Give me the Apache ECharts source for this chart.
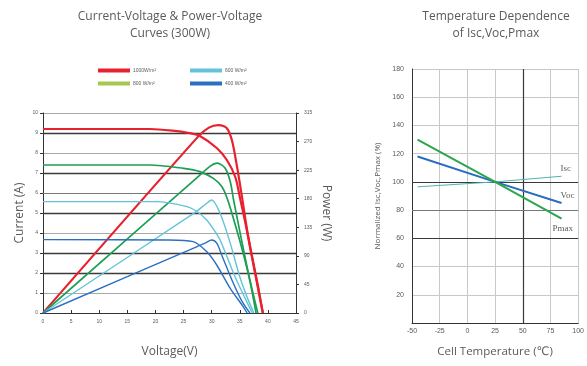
<!DOCTYPE html>
<html>
<head>
<meta charset="utf-8">
<script src="https://cdn.jsdelivr.net/npm/echarts@6/dist/echarts.min.js"></script>
<style>
  html, body { margin: 0; padding: 0; background: #fff; }
</style>
</head>
<body>
<div id="main" style="width:587px;height:366px;"></div>
<script>
// irradiance curves: [voltage, current(A)] and [voltage, power(W)]
var irrNames = ['1000W/m²', '800 W/m²', '600 W/m²', '400 W/m²'];
var ivRed = [[0,9.2],[19,9.2],[23,9.12],[26,9.0],[27.9,8.85],[30.9,8.25],[32.7,7.65],[34.2,6.8],[35,5.8],[36,4.5],[37.2,2.8],[38.2,1.4],[39.1,0]];
var pvRed = [[0,0],[27.5,277],[29.5,292],[31.2,296],[32.7,291],[33.6,272],[34.4,236],[35.3,188],[36.5,120],[38,50],[39.1,0]];
var ivGreen = [[0,7.4],[19,7.4],[25,7.23],[27.9,7.07],[30.3,6.73],[31.8,6.32],[32.8,5.7],[34,4.6],[35.5,3.1],[36.8,1.6],[37.9,0]];
var pvGreen = [[0,0],[27,210],[29.7,231],[31,236],[32.4,228],[33.3,207],[33.9,178],[35.2,120],[36.6,60],[38.2,0]];
var ivLight = [[0,5.57],[20,5.57],[25.6,5.32],[27.5,5.05],[29.1,4.65],[30.3,4.2],[31.5,3.65],[33.9,1.98],[35.5,1.0],[37.2,0]];
var pvLight = [[0,0],[27,158],[29,172],[30,178],[31.5,157],[33.3,110],[35,57],[36.3,25],[37.5,0]];
var ivBlue = [[0,3.67],[22,3.65],[26.7,3.57],[29.1,3.07],[30.9,2.4],[33.3,1.23],[35.6,0.32],[36.3,0]];
var pvBlue = [[0,0],[27,103],[29,111],[30,115],[30.9,110],[31.8,91],[33.6,52],[35.3,20],[36.8,0]];

// temperature dependence: [cell temperature, normalized %]
var tempIsc = [[-45,96.5],[25,100],[85,104]];
var tempVoc = [[-45,118],[25,100],[85,85]];
var tempPmax = [[-45,130],[25,100],[85,74]];

// darker grid lines
var darkCurrent = [2, 3, 5, 7, 9];
var midCurrent = [6];
var darkTempX = [50];
var darkTempY = [60, 100];
var midTempY = [80];

var chart = echarts.init(document.getElementById('main'));

var cRed = '#e8212e', cGreen = '#1c9e55', cLight = '#62c3d9', cBlue = '#2a70c2';
var txt = '#5a5a5a';
var font = 'Open Sans, DejaVu Sans, sans-serif';

function curve(name, data, color, axis, w){
    return {
        name: name, type: 'line', xAxisIndex: 0, yAxisIndex: axis,
        data: data, showSymbol: false, smooth: 0.3, z: 3,
        lineStyle: { color: color, width: w }, itemStyle: { color: color },
        silent: true, animation: false
    };
}
function tempLine(name, data, color, w, off){
    return {
        name: name, type: 'line', xAxisIndex: 1, yAxisIndex: 2,
        data: data, showSymbol: false, z: 3,
        lineStyle: { color: color, width: w }, itemStyle: { color: color },
        endLabel: { show: true, formatter: name, color: txt, fontSize: 9,
            fontFamily: 'Liberation Serif, DejaVu Serif, serif', offset: off },
        animation: false
    };
}
function gridMarks(list){
    return { silent: true, symbol: 'none', z: 1, animation: false, label: { show: false },
             data: list };
}

var redIV = curve(irrNames[0], ivRed, cRed, 0, 2.2);
redIV.markLine = gridMarks(
    darkCurrent.map(function(v){ return { yAxis: v, lineStyle: { color: '#3a3a3a', width: 1.3, type: 'solid' } }; })
    .concat(midCurrent.map(function(v){ return { yAxis: v, lineStyle: { color: '#777', width: 1, type: 'solid' } }; }))
);
var iscLine = tempLine('Isc', tempIsc, '#4fb6ae', 1, [-9, -8]);
iscLine.markLine = gridMarks(
    darkTempX.map(function(v){ return { xAxis: v, lineStyle: { color: '#3a3a3a', width: 1.2, type: 'solid' } }; })
    .concat(darkTempY.map(function(v){ return { yAxis: v, lineStyle: { color: '#3a3a3a', width: 1.2, type: 'solid' } }; }))
    .concat(midTempY.map(function(v){ return { yAxis: v, lineStyle: { color: '#777', width: 1, type: 'solid' } }; }))
);

var option = {
    backgroundColor: '#fff',
    title: [
        { text: 'Current-Voltage & Power-Voltage\nCurves (300W)', left: 165, top: 3, textAlign: 'center',
          textStyle: { fontSize: 12, fontWeight: 'normal', color: txt, lineHeight: 17, fontFamily: font } },
        { text: 'Temperature Dependence\nof Isc,Voc,Pmax', left: 491, top: 3, textAlign: 'center',
          textStyle: { fontSize: 12, fontWeight: 'normal', color: txt, lineHeight: 17, fontFamily: font } }
    ],
    legend: [
        { left: 93, top: 63, orient: 'vertical', itemWidth: 32, itemHeight: 4, itemGap: 8, icon: 'rect',
          textStyle: { fontSize: 5, color: txt, padding: [0, 0, 0, -2] },
          data: [{ name: irrNames[0] }, { name: irrNames[1], itemStyle: { color: '#a5c94f' } }] },
        { left: 185, top: 63, orient: 'vertical', itemWidth: 32, itemHeight: 4, itemGap: 8, icon: 'rect',
          textStyle: { fontSize: 5, color: txt, padding: [0, 0, 0, -2] },
          data: [{ name: irrNames[2] }, { name: irrNames[3] }] }
    ],
    grid: [
        { left: 43, right: 291, top: 113, bottom: 53 },
        { left: 412, right: 6, top: 69, bottom: 43 }
    ],
    xAxis: [
        { gridIndex: 0, type: 'value', min: 0, max: 45, interval: 5,
          name: 'Voltage(V)', nameLocation: 'middle', nameGap: 33,
          nameTextStyle: { fontSize: 12, color: txt, fontFamily: font },
          axisLine: { onZero: false, lineStyle: { color: '#333' } },
          axisTick: { inside: true, length: 3, lineStyle: { color: '#333' } },
          axisLabel: { fontSize: 5, color: txt, margin: 6 },
          splitLine: { show: false } },
        { gridIndex: 1, type: 'value', min: -50, max: 100, interval: 25,
          name: 'Cell Temperature (℃)', nameLocation: 'middle', nameGap: 23,
          nameTextStyle: { fontSize: 11.5, color: txt, fontFamily: font },
          axisLine: { onZero: false, lineStyle: { color: '#333' } },
          axisTick: { show: false },
          axisLabel: { fontSize: 7, color: txt, margin: 5 },
          splitLine: { show: true, lineStyle: { color: '#c8c8c8' } } }
    ],
    yAxis: [
        { gridIndex: 0, type: 'value', min: 0, max: 10, interval: 1,
          name: 'Current (A)', nameLocation: 'middle', nameGap: 17,
          nameTextStyle: { fontSize: 12, color: txt, fontFamily: font },
          axisLine: { show: true, onZero: false, lineStyle: { color: '#333' } },
          axisTick: { show: true, length: 3, lineStyle: { color: '#333' } },
          axisLabel: { fontSize: 5, color: txt, margin: 5 },
          splitLine: { show: true, lineStyle: { color: '#a8a8a8' } } },
        { gridIndex: 0, type: 'value', min: 0, max: 315, interval: 45, position: 'right',
          name: 'Power (W)', nameLocation: 'middle', nameGap: 24, nameRotate: -90,
          nameTextStyle: { fontSize: 12, color: txt, fontFamily: font },
          axisLine: { show: true, onZero: false, lineStyle: { color: '#333' } },
          axisTick: { show: true, length: 3, lineStyle: { color: '#333' } },
          axisLabel: { fontSize: 5, color: txt, margin: 8 },
          splitLine: { show: false } },
        { gridIndex: 1, type: 'value', min: 0, max: 180, interval: 20,
          name: 'Normalized Isc,Voc,Pmax (%)', nameLocation: 'middle', nameGap: 30,
          nameTextStyle: { fontSize: 8, color: txt, fontFamily: font },
          axisLine: { show: true, onZero: false, lineStyle: { color: '#333' } },
          axisTick: { show: false },
          axisLabel: { fontSize: 7, color: txt, margin: 8, showMinLabel: false },
          splitLine: { show: true, lineStyle: { color: '#c8c8c8' } } }
    ],
    series: [
        redIV,
        curve(irrNames[0], pvRed, cRed, 1, 2.2),
        curve(irrNames[1], ivGreen, cGreen, 0, 1.7),
        curve(irrNames[1], pvGreen, cGreen, 1, 1.7),
        curve(irrNames[2], ivLight, cLight, 0, 1.4),
        curve(irrNames[2], pvLight, cLight, 1, 1.4),
        curve(irrNames[3], ivBlue, cBlue, 0, 1.4),
        curve(irrNames[3], pvBlue, cBlue, 1, 1.4),
        iscLine,
        tempLine('Voc', tempVoc, '#2a6cc0', 2, [-9, -7]),
        tempLine('Pmax', tempPmax, '#2aa64e', 2, [-17, 10])
    ]
};
chart.setOption(option);
</script>
</body>
</html>
